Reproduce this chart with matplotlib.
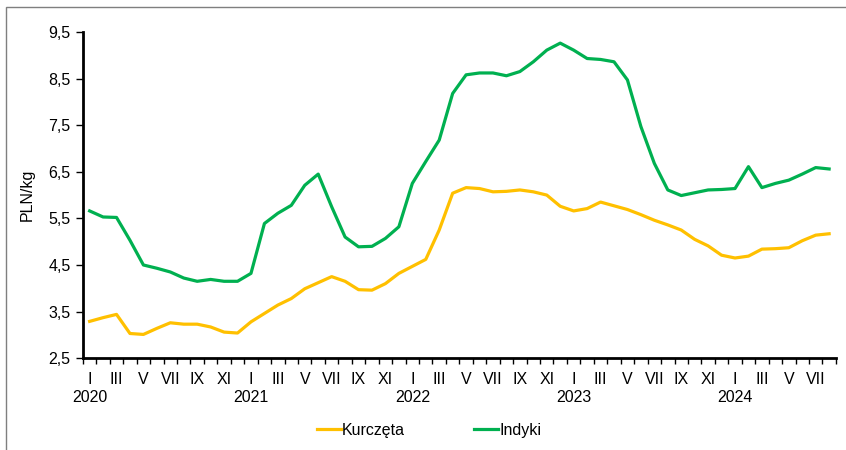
import numpy as np
import matplotlib.pyplot as plt
from matplotlib.patches import Rectangle

plt.rcParams['font.family'] = ['Liberation Sans', 'DejaVu Sans']

# monthly prices, I 2020 - VIII 2024
kurczeta = [3.29, 3.37, 3.44, 3.03, 3.01, 3.14, 3.26, 3.23, 3.23, 3.17, 3.06, 3.04,
            3.28, 3.46, 3.64, 3.78, 3.99, 4.12, 4.25, 4.15, 3.97, 3.96, 4.10, 4.32,
            4.47, 4.62, 5.25, 6.04, 6.16, 6.14, 6.07, 6.08, 6.11, 6.07, 6.00, 5.76,
            5.66, 5.71, 5.85, 5.77, 5.69, 5.58, 5.46, 5.36, 5.25, 5.05, 4.91, 4.71,
            4.65, 4.69, 4.84, 4.85, 4.87, 5.02, 5.14, 5.17]
indyki = [5.66, 5.53, 5.52, 5.03, 4.50, 4.43, 4.35, 4.22, 4.15, 4.19, 4.15, 4.15,
          4.32, 5.39, 5.61, 5.78, 6.21, 6.45, 5.75, 5.10, 4.89, 4.90, 5.07, 5.32,
          6.25, 6.72, 7.18, 8.18, 8.58, 8.62, 8.62, 8.56, 8.65, 8.86, 9.11, 9.26,
          9.11, 8.93, 8.91, 8.86, 8.47, 7.47, 6.68, 6.11, 5.99, 6.05, 6.11, 6.12,
          6.14, 6.61, 6.16, 6.25, 6.32, 6.45, 6.59, 6.56]
months = ['I', 'II', 'III', 'IV', 'V', 'VI', 'VII', 'VIII', 'IX', 'X', 'XI', 'XII']
years = ['2020', '2021', '2022', '2023', '2024']

n = len(kurczeta)
x = np.arange(n)
fs = 11.5

fig = plt.figure(figsize=(8.46, 4.5), dpi=100)
ax = fig.add_axes([0.098, 0.204, 0.890, 0.725])

ax.plot(x, kurczeta, color='#FFC000', lw=2.3, label='Kurczęta')
ax.plot(x, indyki, color='#00B050', lw=2.3, label='Indyki')

ax.set_xlim(-0.5, n - 0.5)
ax.set_ylim(2.5, 9.5)
yt = np.arange(2.5, 9.6, 1.0)
ax.set_yticks(yt)
ax.set_yticklabels([('%.1f' % v).replace('.', ',') for v in yt])

# ticks at month boundaries, labels in month centres
ax.set_xticks(np.arange(-0.5, n, 1.0))
ax.set_xticklabels([])
lab_pos = [i for i in range(n) if i % 2 == 0]
labels = []
for i in lab_pos:
    m = months[i % 12]
    if i % 12 == 0:
        m = m + '\n' + years[i // 12]
    labels.append(m)
ax.set_xticks(lab_pos, minor=True)
ax.set_xticklabels(labels, minor=True, linespacing=1.25)
ax.tick_params(axis='x', which='major', length=4, width=1, direction='out')
ax.tick_params(axis='x', which='minor', length=0, pad=10, labelsize=fs)
ax.tick_params(axis='y', length=5, width=1, labelsize=fs, pad=4)

for s in ['top', 'right']:
    ax.spines[s].set_visible(False)
for s in ['left', 'bottom']:
    ax.spines[s].set_linewidth(2)

ax.set_ylabel('PLN/kg', fontsize=fs, labelpad=10)

fig.legend(loc='center', bbox_to_anchor=(0.5 + 6 / 846, 1 - 430 / 450), ncol=2,
           frameon=False, fontsize=fs, handlelength=1.5, handletextpad=0.1,
           columnspacing=4.3)

fig.patches.append(Rectangle((6 / 846, -0.1), 1.2, 443 / 450 + 0.1,
                             transform=fig.transFigure, fill=False,
                             edgecolor='#7f7f7f', lw=1, figure=fig))

fig.savefig('out.png', dpi=100)
